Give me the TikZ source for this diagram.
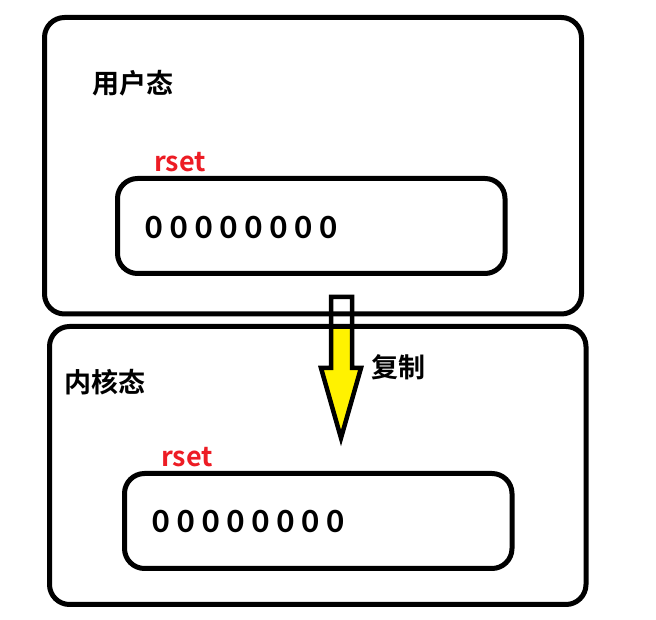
\documentclass[tikz,border=0pt]{standalone}
\usepackage{fontspec}
\setmainfont{Carlito}
\newfontfamily\cjk{Noto Sans CJK SC}[BoldFont={* Bold}]
\newfontfamily\digits{Carlito}
\begin{document}
\begin{tikzpicture}[x=1pt,y=1pt,
  box/.style={draw=black,line width=5pt,rounded corners=20pt,inner sep=0pt,outer sep=0pt},
  label/.style={font=\cjk\bfseries\fontsize{27}{27}\selectfont,inner sep=0pt,anchor=west},
  redlbl/.style={font=\cjk\bfseries\fontsize{27}{27}\selectfont,text={rgb,255:red,237;green,28;blue,36},inner sep=0pt,anchor=west},
  bits/.style={font=\digits\bfseries\fontsize{34}{34}\selectfont,inner sep=0pt,anchor=west}]
\useasboundingbox (0,0) rectangle (656,620);
% arrow
\coordinate (sTL) at (331,323);
\coordinate (sTR) at (352,323);
\coordinate (hL) at (321,252);
\coordinate (hR) at (361,252);
\coordinate (tip) at (341,182);
\coordinate (sBL) at (331,252);
\coordinate (sBR) at (352,252);
\begin{scope}
\clip (300,292) rectangle (400,150);
\fill[yellow] (sTL) -- (sTR) -- (sBR) -- (hR) -- (tip) -- (hL) -- (sBL) -- cycle;
\end{scope}
\draw[line width=4.5pt,line join=miter] (sTL) -- (sTR) -- (sBR) -- (hR) -- (tip) -- (hL) -- (sBL) -- cycle;
% boxes
\node[box,minimum width=537pt,minimum height=296.5pt] (user) at (313,454.25) {};
\node[box,minimum width=536.5pt,minimum height=278pt] (kernel) at (317.75,154.5) {};
\node[box,minimum width=387.5pt,minimum height=95pt] (uset) at (311.25,394) {};
\node[box,minimum width=387.5pt,minimum height=95pt] (kset) at (318.25,99) {};
% texts
\node[label] (ut) at (92,537) {用户态};
\node[label] (kt) at (64,238) {内核态};
\node[label] (cp) at (371,253) {复制};
\node[redlbl] (ur) at (154,458) {rset};
\node[redlbl] (kr) at (161,163) {rset};
\node[bits] (ub) at (145,393) {0 0 0 0 0 0 0 0};
\node[bits] (kb) at (152,99) {0 0 0 0 0 0 0 0};
\end{tikzpicture}
\end{document}
